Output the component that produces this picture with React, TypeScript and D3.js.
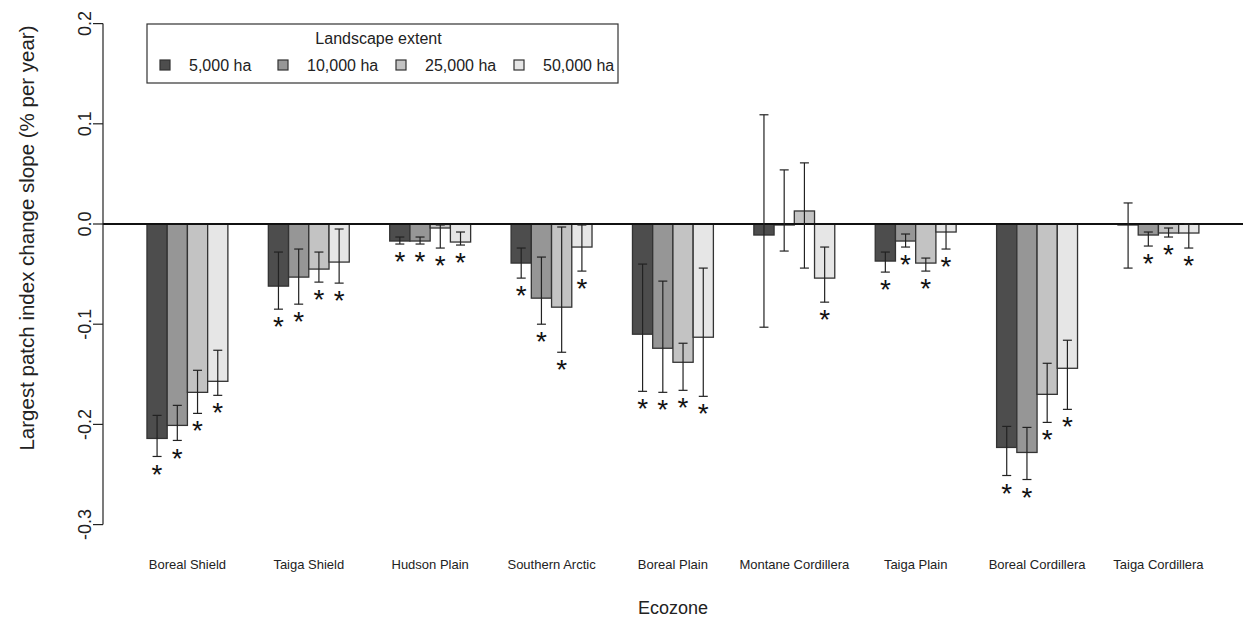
import React from "react";
import * as d3 from "d3";

const ecozones = [
  "Boreal Shield",
  "Taiga Shield",
  "Hudson Plain",
  "Southern Arctic",
  "Boreal Plain",
  "Montane Cordillera",
  "Taiga Plain",
  "Boreal Cordillera",
  "Taiga Cordillera",
];

const extents = ["5,000 ha", "10,000 ha", "25,000 ha", "50,000 ha"];

// mean slope per extent (one value per ecozone)
const mean5000 = [-0.214, -0.062, -0.017, -0.039, -0.110, -0.011, -0.037, -0.223, -0.001];
const mean10000 = [-0.201, -0.053, -0.017, -0.074, -0.124, -0.001, -0.017, -0.228, -0.011];
const mean25000 = [-0.168, -0.045, -0.004, -0.083, -0.138, 0.013, -0.039, -0.170, -0.009];
const mean50000 = [-0.157, -0.038, -0.018, -0.023, -0.113, -0.054, -0.008, -0.144, -0.009];

// upper end of error bar
const hi5000 = [-0.191, -0.028, -0.013, -0.024, -0.040, 0.109, -0.028, -0.202, 0.021];
const hi10000 = [-0.181, -0.025, -0.013, -0.033, -0.057, 0.054, -0.010, -0.203, -0.008];
const hi25000 = [-0.146, -0.028, -0.001, -0.003, -0.119, 0.061, -0.034, -0.139, -0.004];
const hi50000 = [-0.126, -0.005, -0.008, -0.001, -0.044, -0.023, 0.0, -0.116, 0.0];

// lower end of error bar
const lo5000 = [-0.232, -0.085, -0.020, -0.054, -0.167, -0.103, -0.048, -0.251, -0.044];
const lo10000 = [-0.216, -0.080, -0.020, -0.100, -0.168, -0.027, -0.023, -0.255, -0.022];
const lo25000 = [-0.189, -0.058, -0.024, -0.128, -0.166, -0.044, -0.047, -0.198, -0.013];
const lo50000 = [-0.171, -0.059, -0.021, -0.047, -0.172, -0.078, -0.025, -0.185, -0.024];

// significance (asterisk)
const sig5000 = [1, 1, 1, 1, 1, 0, 1, 1, 0];
const sig10000 = [1, 1, 1, 1, 1, 0, 1, 1, 1];
const sig25000 = [1, 1, 1, 1, 1, 0, 1, 1, 1];
const sig50000 = [1, 1, 1, 1, 1, 1, 1, 1, 1];

const yTicks = [0.2, 0.1, 0.0, -0.1, -0.2, -0.3];
const fills = ["#4D4D4D", "#969696", "#C3C3C3", "#E6E6E6"];

const means = [mean5000, mean10000, mean25000, mean50000];
const his = [hi5000, hi10000, hi25000, hi50000];
const los = [lo5000, lo10000, lo25000, lo50000];
const sigs = [sig5000, sig10000, sig25000, sig50000];

const FONT = "'Liberation Sans', Arial, Helvetica, sans-serif";

export default function App() {
  const W = 1243;
  const H = 625;
  const y = d3.scaleLinear().domain([-0.3, 0.2]).range([524.6, 23.6]);
  const unitsPerGroup = 6;
  const x = d3
    .scaleLinear()
    .domain([0, ecozones.length * unitsPerGroup])
    .range([106.5, 1198.9]);
  const bw = x(1) - x(0);
  const axisX = 103;
  const y0 = y(0);

  const bars: any[] = [];
  ecozones.forEach((eco, g) => {
    extents.forEach((ext, j) => {
      const left = x(g * unitsPerGroup + 2 + j);
      const v = means[j][g];
      const cx = left + bw / 2;
      bars.push({ key: `${g}-${j}`, left, v, cx, hi: his[j][g], lo: los[j][g], sig: sigs[j][g], j });
    });
  });

  const legX = 147, legY = 24, legW = 471, legH = 59;
  const itemStep = 118;

  return (
    <svg
      width={W}
      height={H}
      style={{ position: "absolute", left: 0, top: 0, background: "#fff" }}
      fontFamily={FONT}
    >
      <rect x={0} y={0} width={W} height={H} fill="#fff" />
      {/* bars */}
      {bars.map((b) => (
        <rect
          key={"r" + b.key}
          x={b.left}
          y={Math.min(y(b.v), y0)}
          width={bw}
          height={Math.abs(y(b.v) - y0)}
          fill={fills[b.j]}
          stroke="#333"
          strokeWidth={1.3}
        />
      ))}
      {/* zero line */}
      <line x1={axisX} x2={W} y1={y0} y2={y0} stroke="#111" strokeWidth={2.2} />
      {/* error bars */}
      {bars.map((b) => (
        <g key={"e" + b.key} stroke="#222" strokeWidth={1.2}>
          <line x1={b.cx} x2={b.cx} y1={y(b.hi)} y2={y(b.lo)} />
          <line x1={b.cx - 4.5} x2={b.cx + 4.5} y1={y(b.hi)} y2={y(b.hi)} />
          <line x1={b.cx - 4.5} x2={b.cx + 4.5} y1={y(b.lo)} y2={y(b.lo)} />
        </g>
      ))}
      {/* asterisks */}
      {bars
        .filter((b) => b.sig)
        .map((b) => (
          <text
            key={"s" + b.key}
            x={b.cx}
            y={y(b.lo) + 11 + 0.575 * 28}
            fontSize={28}
            textAnchor="middle"
            fill="#111"
          >
            *
          </text>
        ))}
      {/* y axis */}
      <line x1={axisX} x2={axisX} y1={y(0.2)} y2={y(-0.3)} stroke="#222" strokeWidth={1.2} />
      {yTicks.map((t) => (
        <g key={"t" + t}>
          <line x1={axisX - 10} x2={axisX} y1={y(t)} y2={y(t)} stroke="#222" strokeWidth={1.2} />
          <text
            transform={`translate(85,${y(t)}) rotate(-90)`}
            dy="0.35em"
            textAnchor="middle"
            fontSize={18}
            fill="#222"
          >
            {d3.format(".1f")(t).replace("−", "-")}
          </text>
        </g>
      ))}
      <text
        transform={`translate(27,238) rotate(-90)`}
        dy="0.35em"
        textAnchor="middle"
        fontSize={20.5}
        fill="#222"
      >
        Largest patch index change slope (% per year)
      </text>
      {/* category labels */}
      {ecozones.map((eco, g) => (
        <text
          key={"c" + eco}
          x={x(g * unitsPerGroup + 4)}
          y={569}
          textAnchor="middle"
          fontSize={13}
          fill="#222"
        >
          {eco}
        </text>
      ))}
      <text x={673} y={614} textAnchor="middle" fontSize={18} fill="#222">
        Ecozone
      </text>
      {/* legend */}
      <rect x={legX} y={legY} width={legW} height={legH} fill="#fff" stroke="#333" strokeWidth={1.2} />
      <text x={legX + legW / 2 - 4} y={44} textAnchor="middle" fontSize={16} fill="#222">
        Landscape extent
      </text>
      {extents.map((e, i) => {
        const cx = 165 + i * itemStep;
        return (
          <g key={"l" + e}>
            <rect x={cx - 5} y={60} width={10} height={10} fill={fills[i]} stroke="#333" strokeWidth={1.2} />
            <text x={cx + 24} y={71} fontSize={16} fill="#222">
              {e}
            </text>
          </g>
        );
      })}
    </svg>
  );
}
